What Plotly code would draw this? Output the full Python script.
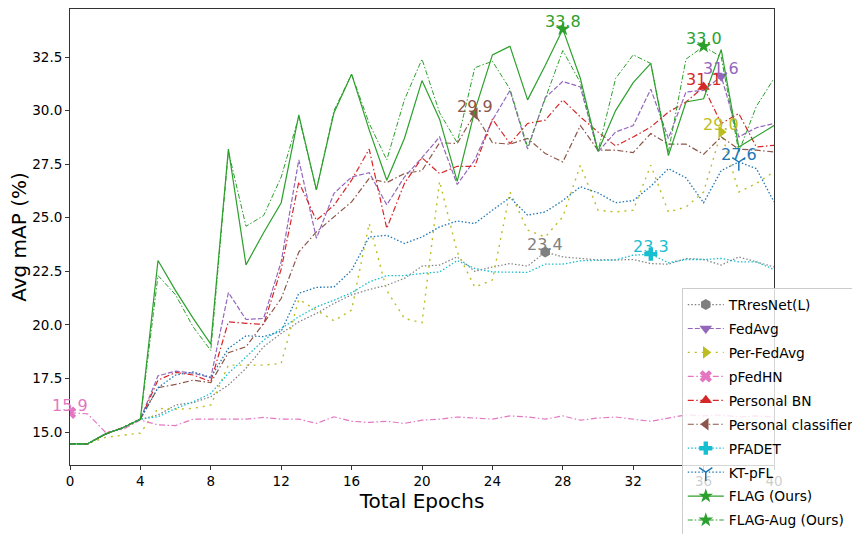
import plotly.graph_objects as go

epochs = list(range(41))

trresnet = [14.45,14.45,14.9,15.2,15.6, 15.79,16.26,16.37,16.65, 17.19,17.97,18.98,19.6,
            20.14,20.53,21.0,21.4, 21.65,21.85,22.17,22.74, 22.79,23.17,22.5,22.7,
            22.86,22.74,23.4,23.17, 23.1,23.03,23.03,23.05, 22.86,22.83,23.1,23.05,
            22.79,23.17,22.94,22.7]
fedavg = [14.45,14.45,14.9,15.2,15.6, 17.62,17.84,17.75,17.53, 21.51,20.25,20.3,22.94,
          27.7,24.04,26.14,26.9, 27.1,25.6,26.9,27.8, 28.77,26.55,27.7,29.55,
          30.94,28.2,30.6,31.36, 31.1,28.07,29.0,29.3, 31.0,28.7,30.87,30.94,
          31.6,28.77,29.2,29.4]
perfedavg = [14.45,14.45,14.75,14.86,14.95, 16.1,16.06,16.1,16.26, 18.12,18.12,18.12,18.2,
             21.19,20.69,20.19,20.69, 24.73,21.6,20.3,20.1, 26.7,23.4,21.77,22.09,
             26.2,24.42,24.1,25.04, 27.45,25.35,25.27,25.35, 27.45,25.27,25.5,26.2,
             29.0,26.2,26.6,27.14]
pfedhn = [15.9,15.85,15.0,15.12,15.56, 15.33,15.3,15.6,15.6, 15.6,15.6,15.68,15.6,
          15.6,15.4,15.71,15.5, 15.45,15.5,15.4,15.55, 15.6,15.7,15.65,15.6,
          15.75,15.7,15.6,15.75, 15.55,15.65,15.7,15.6, 15.5,15.65,15.8,15.75,
          15.8,15.7,15.75,15.7]
personal_bn = [14.45,14.45,14.9,15.2,15.6, 17.42,17.78,17.66,17.35, 20.14,20.07,20.02,22.6,
               26.67,24.88,25.58,26.75, 28.2,24.5,26.6,27.8, 27.06,27.4,27.4,29.6,
               28.46,29.4,29.55,30.5, 29.7,29.0,28.35,28.77, 29.23,29.93,30.4,31.1,
               29.4,29.86,28.3,28.38]
personal_cls = [14.45,14.45,14.9,15.2,15.6, 17.07,17.22,17.42,17.3, 18.7,18.98,20.07,21.23,
                23.4,24.34,25.04,25.74, 26.83,26.64,27.06,27.2, 28.5,28.46,29.86,28.5,
                28.43,28.7,28.0,27.6, 29.3,28.15,28.15,28.04, 28.93,28.43,28.43,27.96,
                28.77,28.2,28.15,28.07]
pfadet = [14.45,14.45,14.9,15.2,15.6, 15.71,16.1,16.41,16.8, 17.74,18.5,19.29,19.83,
          20.38,20.84,21.15,21.5, 22.0,22.3,22.3,22.4, 22.47,23.0,22.63,22.47,
          22.45,22.45,22.83,22.83, 22.99,23.0,23.03,23.25, 23.3,22.9,23.05,23.05,
          23.1,22.94,22.94,22.58]
ktpfl = [14.45,14.45,14.9,15.2,15.6, 17.07,17.66,17.8,17.55, 18.9,19.49,19.45,19.7,
         21.47,21.75,21.77,22.55, 24.1,24.18,23.8,24.1, 24.57,24.85,24.73,25.35,
         25.94,25.12,25.27,25.8, 26.44,26.16,25.7,25.8, 26.47,27.29,26.86,25.7,
         27.2,27.6,27.29,25.74]
flag = [14.45,14.45,14.9,15.2,15.6, 23.0,21.6,20.3,19.1, 28.2,22.8,24.3,25.7,
        29.8,26.3,29.9,31.7, 29.1,26.75,28.7,31.4, 29.6,26.7,30.0,32.6,
        33.0,30.5,32.1,33.8, 31.5,28.1,30.0,31.3, 32.2,27.9,30.4,30.55,
        32.84,28.3,28.8,29.3]
flag_aug = [14.45,14.45,14.9,15.2,15.6, 22.3,21.4,19.9,18.8, 28.1,24.6,25.1,26.9,
            29.7,26.3,30.0,31.7, 29.4,27.7,30.5,32.4, 29.9,28.5,32.0,32.3,
            31.0,28.3,30.6,32.8, 31.3,28.1,31.5,32.6, 32.2,28.07,32.4,33.0,
            32.5,28.07,30.2,31.5]

series_names = ["TRresNet(L)", "FedAvg", "Per-FedAvg", "pFedHN", "Personal BN",
                "Personal classifier", "PFADET", "KT-pFL", "FLAG (Ours)", "FLAG-Aug (Ours)"]
series_values = [trresnet, fedavg, perfedavg, pfedhn, personal_bn,
                 personal_cls, pfadet, ktpfl, flag, flag_aug]

styles = [
    dict(color="#7f7f7f", dash="1.5px,2px", symbol="hexagon", width=1.2),
    dict(color="#9467bd", dash="5px,2px", symbol="triangle-down", width=1.2),
    dict(color="#bcbd22", dash="2px,5px", symbol="triangle-right", width=1.4),
    dict(color="#e377c2", dash="6px,2.5px,1.5px,2.5px", symbol="x", width=1.2),
    dict(color="#d62728", dash="6px,2.5px,1.5px,2.5px", symbol="triangle-up", width=1.2),
    dict(color="#8c564b", dash="6px,2.5px,1.5px,2.5px", symbol="triangle-left", width=1.2),
    dict(color="#17becf", dash="1.5px,2px", symbol="cross", width=1.3),
    dict(color="#1f77b4", dash="1.5px,2px", symbol="y-down", width=1.3),
    dict(color="#2ca02c", dash="solid", symbol="star", width=1.2),
    dict(color="#2ca02c", dash="5px,2px,1.5px,2px", symbol="star", width=1.0),
]

fig = go.Figure()
annotations = []
for name, vals, st in zip(series_names, series_values, styles):
    grp = name
    fig.add_trace(go.Scatter(
        x=epochs, y=vals, mode="lines", name=name, legendgroup=grp, showlegend=False,
        line=dict(color=st["color"], dash=st["dash"], width=st["width"]),
        hoverinfo="skip"))
    imax = max(range(len(vals)), key=lambda i: vals[i])
    mline = dict(color=st["color"], width=1.5) if st["symbol"] == "y-down" else dict(width=0)
    fig.add_trace(go.Scatter(
        x=[epochs[imax]], y=[vals[imax]], mode="lines+markers", name=name, legendgroup=grp,
        showlegend=True,
        line=dict(color=st["color"], dash=st["dash"], width=st["width"]),
        marker=dict(symbol=st["symbol"], size=11, color=st["color"], line=mline)))
    annotations.append(dict(
        x=epochs[imax], y=vals[imax], xref="x", yref="y", text=f"{vals[imax]:.1f}",
        showarrow=False, yanchor="bottom", xanchor="center", yshift=-4,
        font=dict(size=16, color=st["color"], family="DejaVu Sans")))

fig.update_layout(
    width=852, height=534,
    margin=dict(l=70, r=78, t=9, b=69, autoexpand=False),
    paper_bgcolor="white", plot_bgcolor="white",
    font=dict(family="DejaVu Sans", color="black"),
    annotations=annotations,
    legend=dict(x=0.869, y=0.388, xanchor="left", yanchor="top",
                bgcolor="rgba(255,255,255,0.8)", bordercolor="#cccccc", borderwidth=1,
                font=dict(size=13.8, family="DejaVu Sans", color="black"),
                tracegroupgap=3, itemwidth=36),
    xaxis=dict(range=[0, 40], tickvals=list(range(0, 41, 4)), automargin=False,
               title=dict(text="Total Epochs", font=dict(size=20), standoff=0),
               showline=True, mirror=True, linecolor="#333333", linewidth=1,
               ticks="outside", ticklen=4, tickcolor="#333333",
               tickfont=dict(size=13.5), showgrid=False, zeroline=False),
    yaxis=dict(range=[13.46, 34.74], tickvals=[15.0, 17.5, 20.0, 22.5, 25.0, 27.5, 30.0, 32.5],
               tickformat=".1f", automargin=False,
               title=dict(text="Avg mAP (%)", font=dict(size=20), standoff=0),
               showline=True, mirror=True, linecolor="#333333", linewidth=1,
               ticks="outside", ticklen=4, tickcolor="#333333",
               tickfont=dict(size=13.5), showgrid=False, zeroline=False),
)

fig.write_html("out.html", config={"displayModeBar": False},
               post_script="document.body.style.margin='0';document.body.style.overflow='hidden';")
